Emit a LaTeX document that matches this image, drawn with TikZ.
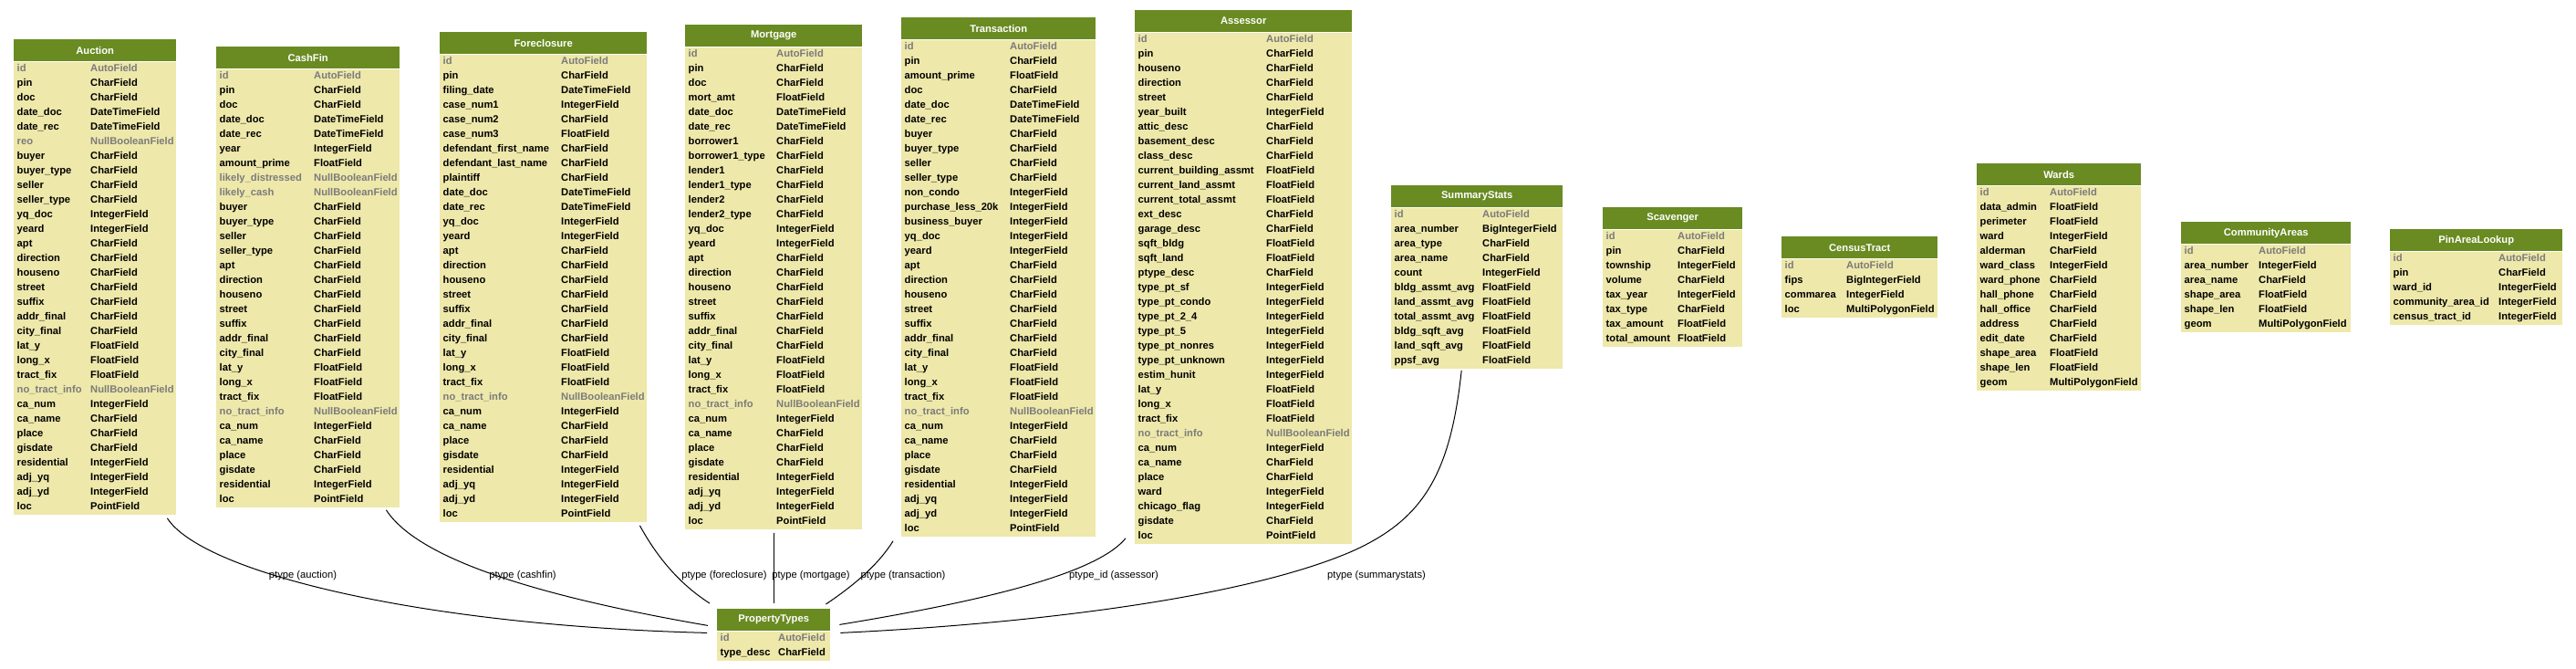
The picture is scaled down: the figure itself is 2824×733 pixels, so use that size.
\documentclass[tikz,border=0pt]{standalone}
\usepackage{fontspec}
\setmainfont{Liberation Sans}
\definecolor{headgreen}{HTML}{698B22}
\definecolor{tablebody}{HTML}{EEE8AA}
\definecolor{fieldgray}{HTML}{7B7B7B}
\hyphenpenalty=10000
\exhyphenpenalty=10000
\newcommand{\nullcell}[1]{\textcolor{fieldgray}{#1}}
\begin{document}
\begin{tikzpicture}[x=1pt, y=-1pt,
    mhead/.style={fill=headgreen, text=white, inner sep=0pt, minimum height=24pt, anchor=north west, font=\fontsize{11.2}{16}\selectfont\bfseries},
    mbody/.style={fill=tablebody, inner sep=0pt, anchor=north west, font=\fontsize{11.2}{16}\selectfont\bfseries},
    rel/.style={line width=1pt},
    rlabel/.style={inner sep=0pt, font=\fontsize{11.2}{13.5}\selectfont}]
  \useasboundingbox[fill=white] (0,0) rectangle (2824,733);

  % Auction
  \node[mhead, minimum width=178pt] (auction-t) at (15,43) {Auction};
  \node[mbody] (auction) at (auction-t.south west) {\begin{tabular}{@{\hspace{3.5pt}}p{80.5pt}@{}p{94pt}@{}}
    \nullcell{id} & \nullcell{AutoField}\\
    pin & CharField\\
    doc & CharField\\
    date\_doc & DateTimeField\\
    date\_rec & DateTimeField\\
    \nullcell{reo} & \nullcell{NullBooleanField}\\
    buyer & CharField\\
    buyer\_type & CharField\\
    seller & CharField\\
    seller\_type & CharField\\
    yq\_doc & IntegerField\\
    yeard & IntegerField\\
    apt & CharField\\
    direction & CharField\\
    houseno & CharField\\
    street & CharField\\
    suffix & CharField\\
    addr\_final & CharField\\
    city\_final & CharField\\
    lat\_y & FloatField\\
    long\_x & FloatField\\
    tract\_fix & FloatField\\
    \nullcell{no\_tract\_info} & \nullcell{NullBooleanField}\\
    ca\_num & IntegerField\\
    ca\_name & CharField\\
    place & CharField\\
    gisdate & CharField\\
    residential & IntegerField\\
    adj\_yq & IntegerField\\
    adj\_yd & IntegerField\\
    loc & PointField\\
  \end{tabular}};

  % CashFin
  \node[mhead, minimum width=201pt] (cashfin-t) at (237,51) {CashFin};
  \node[mbody] (cashfin) at (cashfin-t.south west) {\begin{tabular}{@{\hspace{3.5pt}}p{103.5pt}@{}p{94pt}@{}}
    \nullcell{id} & \nullcell{AutoField}\\
    pin & CharField\\
    doc & CharField\\
    date\_doc & DateTimeField\\
    date\_rec & DateTimeField\\
    year & IntegerField\\
    amount\_prime & FloatField\\
    \nullcell{likely\_distressed} & \nullcell{NullBooleanField}\\
    \nullcell{likely\_cash} & \nullcell{NullBooleanField}\\
    buyer & CharField\\
    buyer\_type & CharField\\
    seller & CharField\\
    seller\_type & CharField\\
    apt & CharField\\
    direction & CharField\\
    houseno & CharField\\
    street & CharField\\
    suffix & CharField\\
    addr\_final & CharField\\
    city\_final & CharField\\
    lat\_y & FloatField\\
    long\_x & FloatField\\
    tract\_fix & FloatField\\
    \nullcell{no\_tract\_info} & \nullcell{NullBooleanField}\\
    ca\_num & IntegerField\\
    ca\_name & CharField\\
    place & CharField\\
    gisdate & CharField\\
    residential & IntegerField\\
    loc & PointField\\
  \end{tabular}};

  % Foreclosure
  \node[mhead, minimum width=227pt] (foreclosure-t) at (482,35) {Foreclosure};
  \node[mbody] (foreclosure) at (foreclosure-t.south west) {\begin{tabular}{@{\hspace{3.5pt}}p{129.5pt}@{}p{94pt}@{}}
    \nullcell{id} & \nullcell{AutoField}\\
    pin & CharField\\
    filing\_date & DateTimeField\\
    case\_num1 & IntegerField\\
    case\_num2 & CharField\\
    case\_num3 & FloatField\\
    defendant\_first\_name & CharField\\
    defendant\_last\_name & CharField\\
    plaintiff & CharField\\
    date\_doc & DateTimeField\\
    date\_rec & DateTimeField\\
    yq\_doc & IntegerField\\
    yeard & IntegerField\\
    apt & CharField\\
    direction & CharField\\
    houseno & CharField\\
    street & CharField\\
    suffix & CharField\\
    addr\_final & CharField\\
    city\_final & CharField\\
    lat\_y & FloatField\\
    long\_x & FloatField\\
    tract\_fix & FloatField\\
    \nullcell{no\_tract\_info} & \nullcell{NullBooleanField}\\
    ca\_num & IntegerField\\
    ca\_name & CharField\\
    place & CharField\\
    gisdate & CharField\\
    residential & IntegerField\\
    adj\_yq & IntegerField\\
    adj\_yd & IntegerField\\
    loc & PointField\\
  \end{tabular}};

  % Mortgage
  \node[mhead, minimum width=194pt] (mortgage-t) at (751,27) {Mortgage};
  \node[mbody] (mortgage) at (mortgage-t.south west) {\begin{tabular}{@{\hspace{3.5pt}}p{96.5pt}@{}p{94pt}@{}}
    \nullcell{id} & \nullcell{AutoField}\\
    pin & CharField\\
    doc & CharField\\
    mort\_amt & FloatField\\
    date\_doc & DateTimeField\\
    date\_rec & DateTimeField\\
    borrower1 & CharField\\
    borrower1\_type & CharField\\
    lender1 & CharField\\
    lender1\_type & CharField\\
    lender2 & CharField\\
    lender2\_type & CharField\\
    yq\_doc & IntegerField\\
    yeard & IntegerField\\
    apt & CharField\\
    direction & CharField\\
    houseno & CharField\\
    street & CharField\\
    suffix & CharField\\
    addr\_final & CharField\\
    city\_final & CharField\\
    lat\_y & FloatField\\
    long\_x & FloatField\\
    tract\_fix & FloatField\\
    \nullcell{no\_tract\_info} & \nullcell{NullBooleanField}\\
    ca\_num & IntegerField\\
    ca\_name & CharField\\
    place & CharField\\
    gisdate & CharField\\
    residential & IntegerField\\
    adj\_yq & IntegerField\\
    adj\_yd & IntegerField\\
    loc & PointField\\
  \end{tabular}};

  % Transaction
  \node[mhead, minimum width=213pt] (transaction-t) at (988,19) {Transaction};
  \node[mbody] (transaction) at (transaction-t.south west) {\begin{tabular}{@{\hspace{3.5pt}}p{115.5pt}@{}p{94pt}@{}}
    \nullcell{id} & \nullcell{AutoField}\\
    pin & CharField\\
    amount\_prime & FloatField\\
    doc & CharField\\
    date\_doc & DateTimeField\\
    date\_rec & DateTimeField\\
    buyer & CharField\\
    buyer\_type & CharField\\
    seller & CharField\\
    seller\_type & CharField\\
    non\_condo & IntegerField\\
    purchase\_less\_20k & IntegerField\\
    business\_buyer & IntegerField\\
    yq\_doc & IntegerField\\
    yeard & IntegerField\\
    apt & CharField\\
    direction & CharField\\
    houseno & CharField\\
    street & CharField\\
    suffix & CharField\\
    addr\_final & CharField\\
    city\_final & CharField\\
    lat\_y & FloatField\\
    long\_x & FloatField\\
    tract\_fix & FloatField\\
    \nullcell{no\_tract\_info} & \nullcell{NullBooleanField}\\
    ca\_num & IntegerField\\
    ca\_name & CharField\\
    place & CharField\\
    gisdate & CharField\\
    residential & IntegerField\\
    adj\_yq & IntegerField\\
    adj\_yd & IntegerField\\
    loc & PointField\\
  \end{tabular}};

  % Assessor
  \node[mhead, minimum width=238pt] (assessor-t) at (1244,11) {Assessor};
  \node[mbody] (assessor) at (assessor-t.south west) {\begin{tabular}{@{\hspace{3.5pt}}p{140.5pt}@{}p{94pt}@{}}
    \nullcell{id} & \nullcell{AutoField}\\
    pin & CharField\\
    houseno & CharField\\
    direction & CharField\\
    street & CharField\\
    year\_built & IntegerField\\
    attic\_desc & CharField\\
    basement\_desc & CharField\\
    class\_desc & CharField\\
    current\_building\_assmt & FloatField\\
    current\_land\_assmt & FloatField\\
    current\_total\_assmt & FloatField\\
    ext\_desc & CharField\\
    garage\_desc & CharField\\
    sqft\_bldg & FloatField\\
    sqft\_land & FloatField\\
    ptype\_desc & CharField\\
    type\_pt\_sf & IntegerField\\
    type\_pt\_condo & IntegerField\\
    type\_pt\_2\_4 & IntegerField\\
    type\_pt\_5 & IntegerField\\
    type\_pt\_nonres & IntegerField\\
    type\_pt\_unknown & IntegerField\\
    estim\_hunit & IntegerField\\
    lat\_y & FloatField\\
    long\_x & FloatField\\
    tract\_fix & FloatField\\
    \nullcell{no\_tract\_info} & \nullcell{NullBooleanField}\\
    ca\_num & IntegerField\\
    ca\_name & CharField\\
    place & CharField\\
    ward & IntegerField\\
    chicago\_flag & IntegerField\\
    gisdate & CharField\\
    loc & PointField\\
  \end{tabular}};

  % SummaryStats
  \node[mhead, minimum width=188pt] (summarystats-t) at (1525,203) {SummaryStats};
  \node[mbody] (summarystats) at (summarystats-t.south west) {\begin{tabular}{@{\hspace{3.5pt}}p{96.5pt}@{}p{88pt}@{}}
    \nullcell{id} & \nullcell{AutoField}\\
    area\_number & BigIntegerField\\
    area\_type & CharField\\
    area\_name & CharField\\
    count & IntegerField\\
    bldg\_assmt\_avg & FloatField\\
    land\_assmt\_avg & FloatField\\
    total\_assmt\_avg & FloatField\\
    bldg\_sqft\_avg & FloatField\\
    land\_sqft\_avg & FloatField\\
    ppsf\_avg & FloatField\\
  \end{tabular}};

  % Scavenger
  \node[mhead, minimum width=153pt] (scavenger-t) at (1757,227) {Scavenger};
  \node[mbody] (scavenger) at (scavenger-t.south west) {\begin{tabular}{@{\hspace{3.5pt}}p{78.5pt}@{}p{71pt}@{}}
    \nullcell{id} & \nullcell{AutoField}\\
    pin & CharField\\
    township & IntegerField\\
    volume & CharField\\
    tax\_year & IntegerField\\
    tax\_type & CharField\\
    tax\_amount & FloatField\\
    total\_amount & FloatField\\
  \end{tabular}};

  % CensusTract
  \node[mhead, minimum width=171pt] (censustract-t) at (1953,259) {CensusTract};
  \node[mbody] (censustract) at (censustract-t.south west) {\begin{tabular}{@{\hspace{3.5pt}}p{67.5pt}@{}p{100pt}@{}}
    \nullcell{id} & \nullcell{AutoField}\\
    fips & BigIntegerField\\
    commarea & IntegerField\\
    loc & MultiPolygonField\\
  \end{tabular}};

  % Wards
  \node[mhead, minimum width=180pt] (wards-t) at (2167,179) {Wards};
  \node[mbody] (wards) at (wards-t.south west) {\begin{tabular}{@{\hspace{3.5pt}}p{76.5pt}@{}p{100pt}@{}}
    \nullcell{id} & \nullcell{AutoField}\\
    data\_admin & FloatField\\
    perimeter & FloatField\\
    ward & IntegerField\\
    alderman & CharField\\
    ward\_class & IntegerField\\
    ward\_phone & CharField\\
    hall\_phone & CharField\\
    hall\_office & CharField\\
    address & CharField\\
    edit\_date & CharField\\
    shape\_area & FloatField\\
    shape\_len & FloatField\\
    geom & MultiPolygonField\\
  \end{tabular}};

  % CommunityAreas
  \node[mhead, minimum width=186pt] (communityareas-t) at (2391,243) {CommunityAreas};
  \node[mbody] (communityareas) at (communityareas-t.south west) {\begin{tabular}{@{\hspace{3.5pt}}p{81.5pt}@{}p{101pt}@{}}
    \nullcell{id} & \nullcell{AutoField}\\
    area\_number & IntegerField\\
    area\_name & CharField\\
    shape\_area & FloatField\\
    shape\_len & FloatField\\
    geom & MultiPolygonField\\
  \end{tabular}};

  % PinAreaLookup
  \node[mhead, minimum width=189pt] (pinarealookup-t) at (2620,251) {PinAreaLookup};
  \node[mbody] (pinarealookup) at (pinarealookup-t.south west) {\begin{tabular}{@{\hspace{3.5pt}}p{115.5pt}@{}p{70pt}@{}}
    \nullcell{id} & \nullcell{AutoField}\\
    pin & CharField\\
    ward\_id & IntegerField\\
    community\_area\_id & IntegerField\\
    census\_tract\_id & IntegerField\\
  \end{tabular}};

  % PropertyTypes
  \node[mhead, minimum width=124pt] (ptypes-t) at (786,667) {PropertyTypes};
  \node[mbody] (ptypes) at (ptypes-t.south west) {\begin{tabular}{@{\hspace{3.5pt}}p{63.5pt}@{}p{57pt}@{}}
    \nullcell{id} & \nullcell{AutoField}\\
    type\_desc & CharField\\
  \end{tabular}};

  % relations
  \draw[rel] ([shift={(-10,4)}]auction.south east) .. controls (220,625) and (450,685) .. ([shift={(-11,2)}]ptypes.north west);
  \draw[rel] ([shift={(-15,3)}]cashfin.south east) .. controls (460,615) and (600,655) .. ([shift={(-10,-6)}]ptypes.north west);
  \draw[rel] ([shift={(-8,4)}]foreclosure.south east) .. controls (720,610) and (745,640) .. ([shift={(-8,-6)}]ptypes-t.north west);
  \draw[rel] ([shift={(0,4)}]mortgage.south) -- ([shift={(0,-6)}]ptypes-t.north);
  \draw[rel] ([shift={(-9,5)}]transaction.south west) .. controls (962,620) and (935,642) .. ([shift={(-5,-5)}]ptypes-t.north east);
  \draw[rel] ([shift={(-10,-6)}]assessor.south west) .. controls (1205,625) and (1100,655) .. ([shift={(10,-7)}]ptypes.north east);
  \draw[rel] ([shift={(-17,2)}]summarystats.south) .. controls (1590,520) and (1560,570) .. (1480,605) .. controls (1350,660) and (1100,685) .. ([shift={(11,2)}]ptypes.north east);

  \node[rlabel] (l-auction) at (332,631) {ptype (auction)};
  \node[rlabel] (l-cashfin) at (573,631) {ptype (cashfin)};
  \node[rlabel] (l-foreclosure) at (794,631) {ptype (foreclosure)};
  \node[rlabel] (l-mortgage) at (889,631) {ptype (mortgage)};
  \node[rlabel] (l-transaction) at (990,631) {ptype (transaction)};
  \node[rlabel] (l-assessor) at (1221,631) {ptype\_id (assessor)};
  \node[rlabel] (l-summarystats) at (1509,631) {ptype (summarystats)};
\end{tikzpicture}
\end{document}
